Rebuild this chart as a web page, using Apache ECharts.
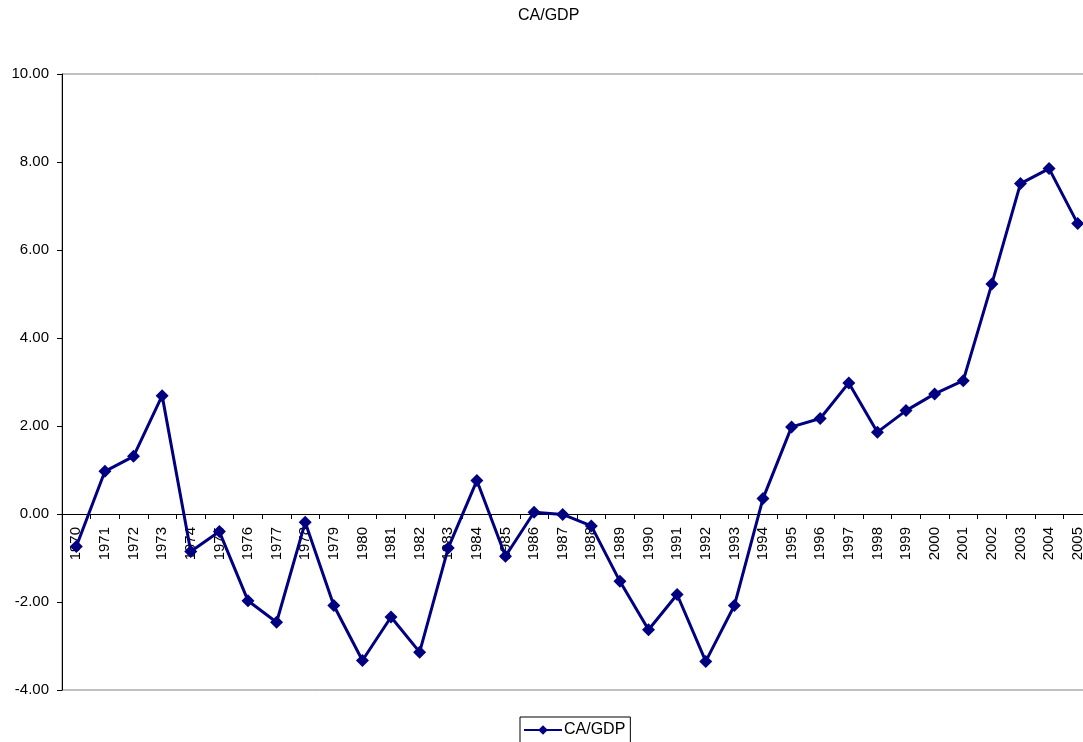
<!DOCTYPE html>
<html>
<head>
<meta charset="utf-8">
<script src="https://cdn.jsdelivr.net/npm/echarts@6/dist/echarts.min.js"></script>
<style>
html, body { margin: 0; padding: 0; background: #fff; overflow: hidden; }
/* 图表比窗口略宽，右边框被裁掉 */
#main { width: 1092px; height: 742px; }
</style>
</head>
<body>
<div id="main"></div>
<script>
// 年份
var years = ['1970','1971','1972','1973','1974','1975','1976','1977','1978','1979',
    '1980','1981','1982','1983','1984','1985','1986','1987','1988','1989',
    '1990','1991','1992','1993','1994','1995','1996','1997','1998','1999',
    '2000','2001','2002','2003','2004','2005'];

// CA/GDP 数值
var caGdp = [-0.74, 0.97, 1.31, 2.69, -0.85, -0.40, -1.97, -2.46, -0.19, -2.08,
    -3.33, -2.34, -3.14, -0.77, 0.76, -0.96, 0.04, -0.01, -0.27, -1.53,
    -2.63, -1.83, -3.35, -2.08, 0.35, 1.98, 2.17, 2.98, 1.86, 2.35,
    2.73, 3.03, 5.23, 7.51, 7.85, 6.60];

// Y轴范围
var yMin = -4;
var yMax = 10;
var yStep = 2;

var font = 'Liberation Sans, Arial, sans-serif';

var gridTop = 74;
var gridBottom = 52;
var plotH = 742 - gridTop - gridBottom;
// X轴放在0的位置（标签也一起移动）
var xOffset = -plotH * (0 - yMin) / (yMax - yMin);

var myChart = echarts.init(document.getElementById('main'));
var option = {
    animation: false,
    backgroundColor: '#fff',
    title: {
        text: 'CA/GDP',
        left: 518,
        top: 8,
        padding: 0,
        textStyle: { fontFamily: font, fontSize: 16, fontWeight: 'normal', color: '#000' }
    },
    legend: {
        data: ['CA/GDP'],
        left: 520,
        top: 717,
        padding: [5, 5, 7, 3],
        borderColor: '#000',
        borderWidth: 1,
        borderRadius: 0,
        itemWidth: 38,
        itemHeight: 12,
        itemGap: 2,
        textStyle: { fontFamily: font, fontSize: 16, color: '#000', padding: [0, 0, 0, -3] }
    },
    grid: {
        left: 62,
        right: 0,
        top: gridTop,
        bottom: gridBottom,
        show: true,
        borderColor: '#808080',
        borderWidth: 1,
        containLabel: false
    },
    xAxis: {
        type: 'category',
        data: years,
        boundaryGap: true,
        offset: xOffset,
        axisLine: { onZero: false, lineStyle: { color: '#000', width: 1 } },
        axisTick: { show: true, inside: false, length: 5, lineStyle: { color: '#000' } },
        axisLabel: {
            interval: 0,
            rotate: 90,
            margin: 13,
            fontFamily: font,
            fontSize: 15,
            color: '#000'
        },
        splitLine: { show: false }
    },
    yAxis: {
        type: 'value',
        min: yMin,
        max: yMax,
        interval: yStep,
        axisLine: { show: true, lineStyle: { color: '#000', width: 1 } },
        axisTick: { show: true, inside: false, length: 5, lineStyle: { color: '#000' } },
        axisLabel: {
            margin: 13,
            fontFamily: font,
            fontSize: 15,
            color: '#000',
            formatter: function (v) { return v.toFixed(2); }
        },
        splitLine: { show: false }
    },
    series: [
        {
            name: 'CA/GDP',
            type: 'line',
            data: caGdp,
            symbol: 'diamond',
            symbolSize: 13,
            showAllSymbol: true,
            lineStyle: { color: '#000080', width: 3 },
            itemStyle: { color: '#000080' }
        }
    ]
};
myChart.setOption(option);
</script>
</body>
</html>
